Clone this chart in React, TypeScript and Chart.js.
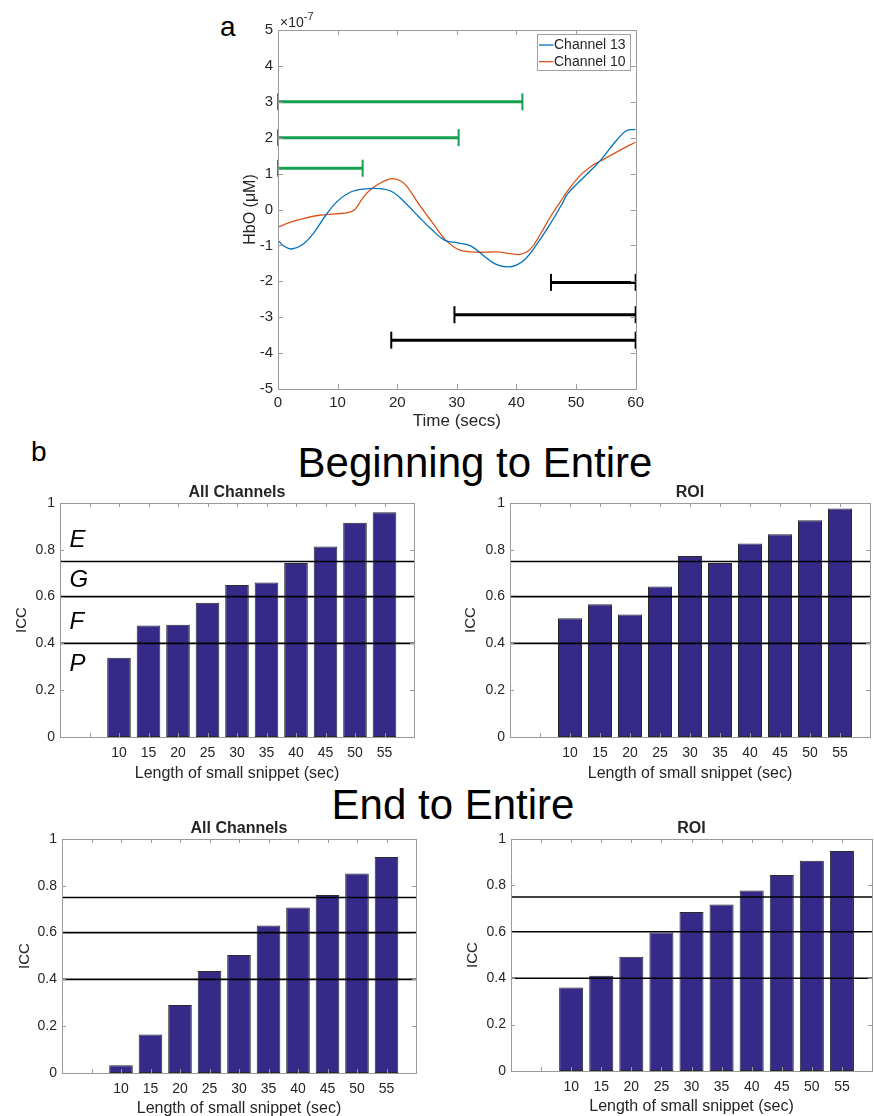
import React, { useEffect, useRef } from 'react';
import { Chart, registerables } from 'chart.js';

Chart.register(...registerables);

const FONT = "'Liberation Sans', Arial, Helvetica, sans-serif";
Chart.defaults.font.family = FONT;
Chart.defaults.color = '#262626';

// ---------- Panel a : HbO time course (values x 1e-7) ----------
const ch13Time = [0, 1, 2.3, 4.2, 6, 8, 9.9, 12.1, 14.3, 17.1, 19.3, 21.5, 23.6, 25.8, 28.0, 30.2, 32.4, 34.6, 36.5, 38.5, 40.0, 41.5, 43.4, 45.6, 47.8, 48.5, 51.3, 54.1, 56.8, 58.5, 60];
const ch13HbO = [-0.86, -1.02, -1.1, -0.97, -0.65, -0.16, 0.22, 0.48, 0.57, 0.58, 0.48, 0.16, -0.2, -0.56, -0.86, -0.93, -1.02, -1.3, -1.52, -1.6, -1.55, -1.38, -0.97, -0.42, 0.2, 0.42, 0.9, 1.37, 1.93, 2.2, 2.23];
const ch10Time = [0, 2, 3.6, 6.9, 9.7, 11.9, 12.9, 14.3, 15.5, 17.1, 18.5, 19.3, 20.5, 21.5, 23.6, 25.3, 26.5, 28.0, 30.2, 32.4, 34.6, 36.8, 39.0, 40.6, 42.3, 44.0, 45.6, 47.3, 48.5, 50.7, 52.5, 54.1, 56.8, 60];
const ch10HbO = [-0.49, -0.36, -0.28, -0.16, -0.12, -0.08, 0.0, 0.34, 0.55, 0.73, 0.84, 0.86, 0.8, 0.67, 0.16, -0.23, -0.5, -0.83, -1.11, -1.18, -1.19, -1.18, -1.23, -1.25, -1.11, -0.69, -0.23, 0.2, 0.5, 0.95, 1.2, 1.35, 1.6, 1.88];

const beginSnippetStart = [0, 0, 0];
const beginSnippetEnd = [41.0, 30.3, 14.2];
const beginSnippetLevel = [3.0, 2.0, 1.15];
const endSnippetStart = [45.8, 29.6, 19.0];
const endSnippetEnd = [60, 60, 60];
const endSnippetLevel = [-2.03, -2.93, -3.64];

// ---------- Panel b : ICC ----------
const snippetLengths = [10, 15, 20, 25, 30, 35, 40, 45, 50, 55];
const iccBeginAll = [0.339, 0.476, 0.48, 0.574, 0.65, 0.66, 0.744, 0.814, 0.916, 0.961];
const iccBeginRoi = [0.507, 0.567, 0.523, 0.643, 0.773, 0.744, 0.827, 0.866, 0.926, 0.977];
const iccEndAll = [0.033, 0.164, 0.291, 0.436, 0.504, 0.63, 0.707, 0.761, 0.853, 0.923];
const iccEndRoi = [0.36, 0.411, 0.492, 0.597, 0.685, 0.718, 0.778, 0.845, 0.906, 0.948];
const iccThresholds = [0.4, 0.6, 0.75];
const reliabilityLetters = ['E', 'G', 'F', 'P'];
const reliabilityLetterLevels = [0.84, 0.67, 0.49, 0.31];

const AXIS_COLOR = '#9a9a9a';
const TEXT_COLOR = '#262626';

const matlabPlugin = {
  id: 'matlab',
  afterDatasetsDraw(chart: any, _args: any, opts: any) {
    const { ctx, chartArea: a, scales } = chart;
    const xs = scales.x;
    const ys = scales.y;
    const tl = opts.tickLen || 5;
    ctx.save();
    ctx.strokeStyle = AXIS_COLOR;
    ctx.lineWidth = 1;
    ctx.beginPath();
    xs.ticks.forEach((t: any) => {
      const px = Math.round(xs.getPixelForValue(t.value)) + 0.5;
      ctx.moveTo(px, a.bottom);
      ctx.lineTo(px, a.bottom - tl);
      ctx.moveTo(px, a.top);
      ctx.lineTo(px, a.top + tl);
    });
    ys.ticks.forEach((t: any) => {
      const py = Math.round(ys.getPixelForValue(t.value)) + 0.5;
      ctx.moveTo(a.left, py);
      ctx.lineTo(a.left + tl, py);
      ctx.moveTo(a.right, py);
      ctx.lineTo(a.right - tl, py);
    });
    ctx.stroke();
    ctx.strokeRect(Math.round(a.left) + 0.5, Math.round(a.top) + 0.5, Math.round(a.right - a.left), Math.round(a.bottom - a.top));
    ctx.restore();
  },
  afterDraw(chart: any, _args: any, opts: any) {
    const { ctx, chartArea: a, scales } = chart;
    ctx.save();
    ctx.fillStyle = TEXT_COLOR;
    if (opts.title) {
      ctx.font = `bold 16px ${FONT}`;
      ctx.textAlign = 'center';
      ctx.textBaseline = 'middle';
      ctx.fillText(opts.title, (a.left + a.right) / 2, a.top - 10);
    }
    if (opts.letters) {
      ctx.font = `italic 24px ${FONT}`;
      ctx.textAlign = 'left';
      ctx.textBaseline = 'middle';
      ctx.fillStyle = '#000';
      reliabilityLetters.forEach((L, i) => {
        ctx.fillText(L, scales.x.getPixelForValue(1.6), scales.y.getPixelForValue(reliabilityLetterLevels[i]));
      });
    }
    if (opts.exponent) {
      ctx.fillStyle = TEXT_COLOR;
      ctx.textAlign = 'left';
      ctx.textBaseline = 'alphabetic';
      ctx.font = `14px ${FONT}`;
      const base = '\u00d710';
      ctx.fillText(base, a.left + 2, a.top - 3);
      const w = ctx.measureText(base).width;
      ctx.font = `11px ${FONT}`;
      ctx.fillText('-7', a.left + 2 + w, a.top - 10);
    }
    if (opts.legend) {
      const items = opts.legend as { text: string; color: string }[];
      const bw = 93;
      const bh = 36;
      const bx = Math.round(a.right - 6 - bw) + 0.5;
      const by = Math.round(a.top + 4) + 0.5;
      ctx.fillStyle = '#fff';
      ctx.fillRect(bx, by, bw, bh);
      ctx.strokeStyle = '#a0a0a0';
      ctx.lineWidth = 1;
      ctx.strokeRect(bx, by, bw, bh);
      ctx.font = `14px ${FONT}`;
      ctx.textAlign = 'left';
      ctx.textBaseline = 'middle';
      items.forEach((it, i) => {
        const cy = by + 10.5 + i * 16.7;
        ctx.strokeStyle = it.color;
        ctx.lineWidth = 1.3;
        ctx.beginPath();
        ctx.moveTo(bx + 1.5, cy);
        ctx.lineTo(bx + 16, cy);
        ctx.stroke();
        ctx.fillStyle = TEXT_COLOR;
        ctx.fillText(it.text, bx + 16.5, cy);
      });
    }
    ctx.restore();
  },
};

function spanDataset(start: number, end: number, level: number, color: string) {
  return {
    type: 'line',
    label: '',
    data: [
      { x: start, y: level },
      { x: end, y: level },
    ],
    borderColor: color,
    borderWidth: 3,
    pointStyle: 'line',
    rotation: 90,
    pointRadius: 8.5,
    pointBorderWidth: 2,
    pointBorderColor: color,
    pointBackgroundColor: color,
    clip: false,
    order: 0,
  };
}

function makeTimeCourse(): any {
  return {
    type: 'line',
    data: {
      datasets: [
        {
          label: 'Channel 13',
          data: ch13Time.map((t, i) => ({ x: t, y: ch13HbO[i] })),
          borderColor: '#0072BD',
          borderWidth: 1.3,
          pointRadius: 0,
          tension: 0.4,
        },
        {
          label: 'Channel 10',
          data: ch10Time.map((t, i) => ({ x: t, y: ch10HbO[i] })),
          borderColor: '#D95319',
          borderWidth: 1.3,
          pointRadius: 0,
          tension: 0.4,
        },
        ...beginSnippetStart.map((s, i) => spanDataset(s, beginSnippetEnd[i], beginSnippetLevel[i], '#13a04f')),
        ...endSnippetStart.map((s, i) => spanDataset(s, endSnippetEnd[i], endSnippetLevel[i], '#000000')),
      ],
    },
    options: {
      responsive: false,
      animation: false,
      events: [],
      layout: { padding: { top: 25, right: 10, left: 0, bottom: 0 } },
      plugins: {
        legend: { display: false },
        tooltip: { enabled: false },
        matlab: {
          tickLen: 5,
          exponent: true,
          legend: [
            { text: 'Channel 13', color: '#0072BD' },
            { text: 'Channel 10', color: '#D95319' },
          ],
        },
      },
      scales: {
        x: {
          type: 'linear',
          min: 0,
          max: 60,
          ticks: { stepSize: 10, font: { size: 15 }, padding: 5, color: TEXT_COLOR, maxRotation: 0, autoSkip: false },
          grid: { display: false, drawTicks: false },
          border: { display: false },
          title: { display: true, text: 'Time (secs)', font: { size: 17 }, color: TEXT_COLOR, padding: { top: 0, bottom: 2 } },
          afterFit: (s: any) => {
            s.height = 45;
          },
        },
        y: {
          type: 'linear',
          min: -5,
          max: 5,
          ticks: { stepSize: 1, font: { size: 15 }, padding: 5, color: TEXT_COLOR },
          grid: { display: false, drawTicks: false },
          border: { display: false },
          title: { display: true, text: 'HbO (\u03bcM)', font: { size: 16 }, color: TEXT_COLOR, padding: { top: 11, bottom: 0 } },
          afterFit: (s: any) => {
            s.width = 48;
          },
        },
      },
    },
    plugins: [matlabPlugin],
  };
}

type IccPanel = {
  values: number[];
  title: string;
  letters: boolean;
  cl: number;
  l: number;
  t: number;
  r: number;
  b: number;
  padR: number;
  yTitlePad: number;
  xTitlePad: number;
};

const TOP_PAD = 30;
const X_AXIS_H = 46;

function makeIcc(p: IccPanel): any {
  return {
    type: 'bar',
    data: {
      datasets: [
        ...iccThresholds.map((th) => ({
          type: 'line',
          label: '',
          data: [
            { x: 0, y: th },
            { x: 60, y: th },
          ],
          borderColor: '#000',
          borderWidth: 1.6,
          pointRadius: 0,
          order: 0,
        })),
        {
          type: 'bar',
          label: 'ICC',
          data: snippetLengths.map((s, i) => ({ x: s, y: p.values[i] })),
          backgroundColor: '#352a87',
          borderColor: '#2a2a2a',
          borderWidth: 1,
          borderSkipped: false,
          barPercentage: 0.8,
          categoryPercentage: 1,
          order: 1,
        },
      ],
    },
    options: {
      responsive: false,
      animation: false,
      events: [],
      layout: { padding: { top: TOP_PAD, right: p.padR, left: 0, bottom: 0 } },
      plugins: {
        legend: { display: false },
        tooltip: { enabled: false },
        matlab: { tickLen: 4, title: p.title, letters: p.letters },
      },
      scales: {
        x: {
          type: 'linear',
          offset: false,
          min: 0,
          max: 60,
          ticks: {
            stepSize: 5,
            autoSkip: false,
            maxRotation: 0,
            font: { size: 14 },
            padding: 8,
            color: TEXT_COLOR,
            callback: (v: number) => (v >= 10 && v <= 55 ? String(v) : ''),
          },
          grid: { display: false, drawTicks: false },
          border: { display: false },
          title: { display: true, text: 'Length of small snippet (sec)', font: { size: 16 }, color: TEXT_COLOR, padding: { top: 0, bottom: p.xTitlePad } },
          afterFit: (s: any) => {
            s.height = X_AXIS_H;
          },
        },
        y: {
          type: 'linear',
          min: 0,
          max: 1,
          ticks: {
            stepSize: 0.2,
            font: { size: 14 },
            padding: 5,
            color: TEXT_COLOR,
            callback: (v: number) => String(Number(v.toFixed(1))),
          },
          grid: { display: false, drawTicks: false },
          border: { display: false },
          title: { display: true, text: 'ICC', font: { size: 15 }, color: TEXT_COLOR, padding: { top: p.yTitlePad, bottom: 0 } },
          afterFit: (s: any) => {
            s.width = p.l - p.cl;
          },
        },
      },
    },
    plugins: [matlabPlugin],
  };
}

function ChartCanvas(props: { left: number; top: number; width: number; height: number; make: () => any }) {
  const ref = useRef<HTMLCanvasElement>(null);
  useEffect(() => {
    const chart = new Chart(ref.current as HTMLCanvasElement, props.make());
    return () => chart.destroy();
  }, []);
  const { left, top, width, height } = props;
  return (
    <canvas
      ref={ref}
      width={width}
      height={height}
      style={{ position: 'absolute', left, top, width, height, display: 'block' }}
    />
  );
}

const iccPanels: IccPanel[] = [
  { values: iccBeginAll, title: 'All Channels', letters: true, cl: 0, l: 60, t: 503, r: 414, b: 737, padR: 10, yTitlePad: 13, xTitlePad: 0 },
  { values: iccBeginRoi, title: 'ROI', letters: false, cl: 450, l: 510, t: 503, r: 876, b: 737, padR: 2, yTitlePad: 12, xTitlePad: 0 },
  { values: iccEndAll, title: 'All Channels', letters: false, cl: 0, l: 62, t: 839, r: 416, b: 1073, padR: 10, yTitlePad: 16, xTitlePad: 1 },
  { values: iccEndRoi, title: 'ROI', letters: false, cl: 450, l: 511, t: 839, r: 878, b: 1071, padR: 2, yTitlePad: 14, xTitlePad: 1 },
];

const textStyle = (size: number): React.CSSProperties => ({
  position: 'absolute',
  fontFamily: FONT,
  fontSize: size,
  lineHeight: 1,
  color: '#000',
  whiteSpace: 'nowrap',
});

export default function App() {
  return (
    <div style={{ position: 'absolute', left: 0, top: 0, width: 874, height: 1116, overflow: 'hidden', background: '#fff' }}>
      <div style={{ ...textStyle(28), left: 220, top: 13 }}>a</div>
      <ChartCanvas left={230} top={5} width={419} height={429} make={makeTimeCourse} />
      <div style={{ ...textStyle(28), left: 31, top: 438 }}>b</div>
      <div style={{ ...textStyle(42), left: 275, width: 400, top: 442, textAlign: 'center' }}>Beginning to Entire</div>
      <div style={{ ...textStyle(42), left: 253, width: 400, top: 784, textAlign: 'center' }}>End to Entire</div>
      {iccPanels.map((p, i) => {
        const top = p.t - TOP_PAD;
        const width = p.r + p.padR - p.cl;
        const height = p.b + X_AXIS_H - top;
        return <ChartCanvas key={i} left={p.cl} top={top} width={width} height={height} make={() => makeIcc(p)} />;
      })}
    </div>
  );
}
